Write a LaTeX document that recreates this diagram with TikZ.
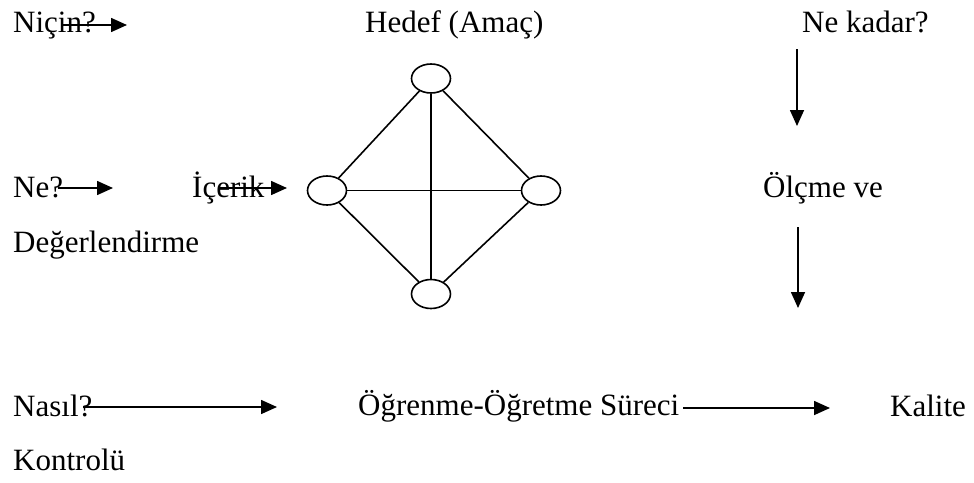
\documentclass[tikz,border=0pt]{standalone}
\usepackage{fontspec}
\setmainfont{Liberation Serif}
\usetikzlibrary{arrows.meta,shapes.geometric}

\tikzset{
    yazi/.style={anchor=base west, inner sep=0pt, font=\fontsize{31}{37}\selectfont},
    ok/.style={-{Triangle[length=16pt,width=14pt]}, line width=1.6pt},
    halka/.style={draw, ellipse, line width=1.6pt, inner sep=0pt,
        minimum width=39pt, minimum height=29pt},
    kenar/.style={line width=1.6pt}
}

\begin{document}
\begin{tikzpicture}[x=1pt, y=-1pt]
        \useasboundingbox (0,0) rectangle (974,482);

        % Metinler
        \node[yazi] (nicin) at (13,32) {Niçin?};
        \node[yazi] (hedef) at (365,32) {Hedef (Amaç)};
        \node[yazi] (nekadar) at (802,32) {Ne kadar?};
        \node[yazi] (ne) at (13,197) {Ne?};
        \node[yazi] (icerik) at (192,197) {İçerik};
        \node[yazi] (olcme) at (763,197) {Ölçme ve};
        \node[yazi] (degerlendirme) at (13,252) {Değerlendirme};
        \node[yazi] (nasil) at (13,416) {Nasıl?};
        \node[yazi] (surec) at (358,415) {Öğrenme-Öğretme Süreci};
        \node[yazi] (kalite) at (890,416) {Kalite};
        \node[yazi] (kontrolu) at (13,470) {Kontrolü};

        % Dörtgen (elipsler)
        \node[halka] (ust) at (431,78.5) {};
        \node[halka] (sol) at (327,190.5) {};
        \node[halka] (sag) at (541,190.5) {};
        \node[halka] (alt) at (431,294) {};

        \draw[kenar] (ust) -- (sol);
        \draw[kenar] (ust) -- (sag);
        \draw[kenar] (sol) -- (alt);
        \draw[kenar] (sag) -- (alt);
        \draw[kenar] (ust) -- (alt);
        \draw[kenar] (sol) -- (sag);

        % Ok uçları
        \coordinate (nicinA) at (63,25);
        \coordinate (nicinB) at (127,25);
        \coordinate (neA) at (58,188);
        \coordinate (neB) at (113,188);
        \coordinate (icerikA) at (220,188);
        \coordinate (icerikB) at (287,188);
        \coordinate (kadarA) at (797,49);
        \coordinate (kadarB) at (797,126);
        \coordinate (olcmeA) at (798,227);
        \coordinate (olcmeB) at (798,308);
        \coordinate (nasilA) at (83,407);
        \coordinate (nasilB) at (277,407);
        \coordinate (surecA) at (683,408);
        \coordinate (surecB) at (830,408);

        % Oklar
        \draw[ok] (nicinA) -- (nicinB);
        \draw[ok] (neA) -- (neB);
        \draw[ok] (icerikA) -- (icerikB);
        \draw[ok] (kadarA) -- (kadarB);
        \draw[ok] (olcmeA) -- (olcmeB);
        \draw[ok] (nasilA) -- (nasilB);
        \draw[ok] (surecA) -- (surecB);

    \end{tikzpicture}
\end{document}
